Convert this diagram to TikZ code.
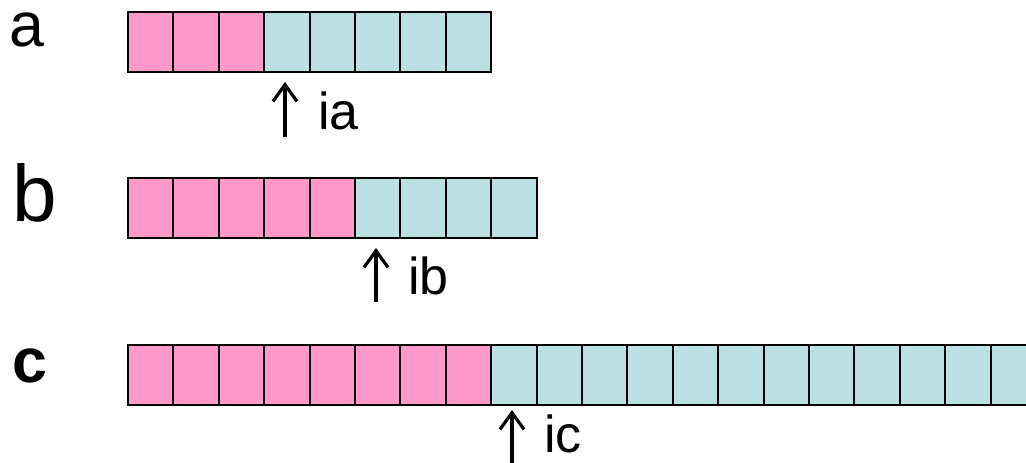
\documentclass[tikz,border=0pt]{standalone}
\usepackage{fontspec}
\setmainfont{Liberation Sans}
\usetikzlibrary{arrows.meta}
\definecolor{cellpink}{HTML}{FF99CC}
\definecolor{cellcyan}{HTML}{BBE0E3}
\begin{document}
\begin{tikzpicture}[x=0.75pt,y=-0.75pt,
  cell/.style={draw=black, line width=1.5pt, minimum width=34.05pt, minimum height=45pt,
    inner sep=0pt, outer sep=0pt, anchor=north west},
  pk/.style={cell, fill=cellpink},
  cy/.style={cell, fill=cellcyan},
  ptr/.style={line width=2.6pt, -{Straight Barb[length=12.5pt, width=18pt, line width=2.4pt]}},
  lbl/.style={anchor=base west, inner sep=0pt, font=\fontsize{39}{44}\selectfont},
  rowname/.style={anchor=base west, inner sep=0pt}]
\useasboundingbox (0,0) rectangle (1026,463);
\begin{scope}
\clip (0,0) rectangle (1026,463);
% row a
\foreach \i in {0,1,2} \node[pk] (a\i) at ({128+45.4*\i},12) {};
\foreach \i in {3,...,7} \node[cy] (a\i) at ({128+45.4*\i},12) {};
% row b
\foreach \i in {0,...,4} \node[pk] (b\i) at ({128+45.4*\i},178) {};
\foreach \i in {5,...,8} \node[cy] (b\i) at ({128+45.4*\i},178) {};
% row c
\foreach \i in {0,...,7} \node[pk] (c\i) at ({128+45.4*\i},345) {};
\foreach \i in {8,...,19} \node[cy] (c\i) at ({128+45.4*\i},345) {};
% row names
\node[rowname, text height=0.56em, font=\fontsize{47}{52}\selectfont] (na) at (9,47) {a};
\node[rowname, font=\fontsize{60}{66}\selectfont] (nb) at (12,221.5) {b};
\node[rowname, font=\fontsize{47}{53}\selectfont\bfseries] (nc) at (12,383) {c};
% pointers
\coordinate (atip) at (285,82);  \coordinate (abot) at (285,137);
\coordinate (btip) at (376,248); \coordinate (bbot) at (376,302);
\coordinate (ctip) at (512,410); \coordinate (cbot) at (512,475);
\draw[ptr] (abot) -- (atip);
\draw[ptr] (bbot) -- (btip);
\draw[ptr] (cbot) -- (ctip);
\node[lbl] (ia) at (318,130) {ia};
\node[lbl] (ib) at (408,295) {ib};
\node[lbl] (ic) at (544,453) {ic};
\end{scope}
\end{tikzpicture}
\end{document}
